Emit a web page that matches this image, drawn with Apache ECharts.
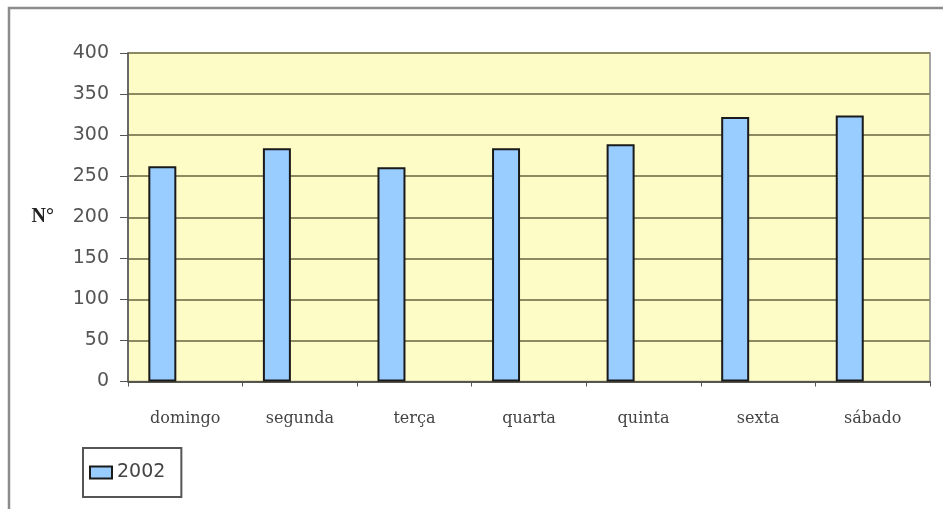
<!DOCTYPE html>
<html><head><meta charset="utf-8">
<script src="https://cdn.jsdelivr.net/npm/echarts@6/dist/echarts.min.js"></script>
<style>html,body{margin:0;padding:0;background:#fff}#c{width:943px;height:509px}</style>
</head><body><div id="c"></div>
<script>
const categories = ['domingo','segunda','terça','quarta','quinta','sexta','sábado'];
const values2002 = [262, 284, 261, 284, 289, 322, 324];
const yTicks = {min: 0, max: 400, interval: 50};
const seriesName = '2002';

const chart = echarts.init(document.getElementById('c'));
chart.setOption({
  animation: false,
  backgroundColor: '#ffffff',
  grid: {left: 128, top: 53, right: 13, bottom: 127.5, show: true, backgroundColor: '#FEFCC6', borderColor: '#8a8a8a', borderWidth: 1.5},
  graphic: [{type: 'rect', shape: {x: 9, y: 8, width: 960, height: 520}, style: {fill: 'none', stroke: '#8c8c8c', lineWidth: 2.5}, silent: true}],
  legend: {
    data: [{name: seriesName, icon: 'rect'}], left: 83, top: 448, orient: 'vertical',
    borderColor: '#555', borderWidth: 2, padding: [15, 16, 15, 6], borderRadius: 0,
    itemWidth: 22, itemHeight: 12, itemGap: 4,
    textStyle: {fontFamily: 'DejaVu Sans', fontSize: 19, color: '#444'}
  },
  xAxis: {
    type: 'category', data: categories,
    axisLine: {lineStyle: {color: '#444', width: 1.5}},
    axisTick: {show: true, length: 5, lineStyle: {color: '#555'}},
    axisLabel: {margin: 29, fontFamily: 'DejaVu Serif', fontSize: 16, color: '#444'}
  },
  yAxis: {
    type: 'value', min: yTicks.min, max: yTicks.max, interval: yTicks.interval,
    name: 'N°', nameLocation: 'middle', nameRotate: 0, nameGap: 74,
    nameTextStyle: {fontFamily: 'Liberation Serif', fontWeight: 'bold', fontSize: 20, color: '#222', padding: [0, 0, 6, 0]},
    axisLine: {show: true, lineStyle: {color: '#555', width: 1.5}},
    axisTick: {show: true, length: 8, lineStyle: {color: '#555'}},
    axisLabel: {margin: 19, fontFamily: 'DejaVu Sans', fontSize: 19, color: '#555'},
    splitLine: {lineStyle: {color: '#8d8961', width: 2}}
  },
  series: [
    {name: seriesName, type: 'bar', data: values2002, barWidth: 28, barGap: '64%',
     itemStyle: {color: '#99CCFF', borderColor: '#1a1a1a', borderWidth: 2}},
    {name: 'pad', type: 'bar', data: categories.map(() => null), barWidth: 28}
  ]
});
</script></body></html>
